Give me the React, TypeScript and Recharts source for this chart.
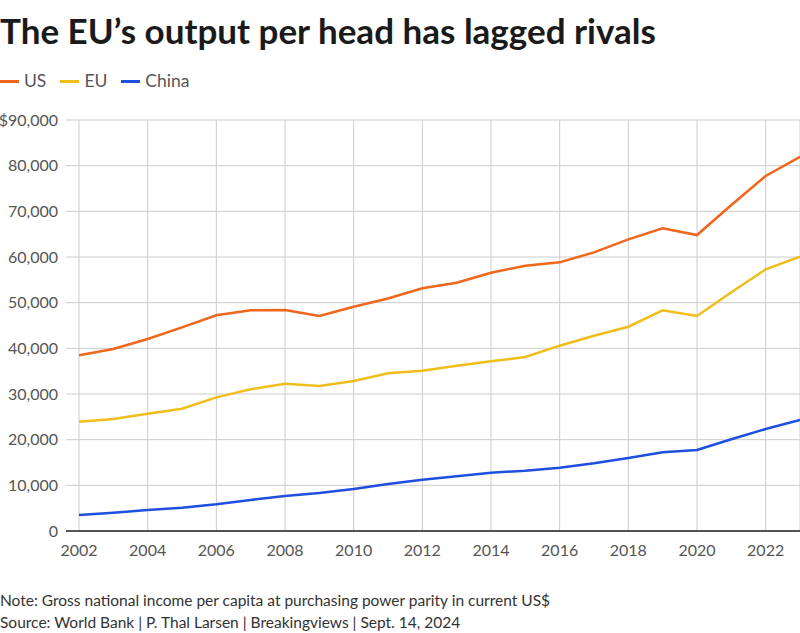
import React from 'react';
import { LineChart, Line, XAxis, YAxis, CartesianGrid } from 'recharts';

const years = [2002, 2003, 2004, 2005, 2006, 2007, 2008, 2009, 2010, 2011, 2012, 2013, 2014, 2015, 2016, 2017, 2018, 2019, 2020, 2021, 2022, 2023];
const usValues = [38470, 39850, 42040, 44600, 47230, 48330, 48400, 47080, 49100, 50900, 53140, 54370, 56560, 58100, 58830, 61020, 63870, 66280, 64810, 71380, 77730, 81960];
const euValues = [23940, 24520, 25690, 26780, 29270, 31020, 32250, 31750, 32840, 34530, 35100, 36200, 37160, 38100, 40580, 42760, 44730, 48330, 47080, 52300, 57300, 60060];
const chinaValues = [3500, 4000, 4600, 5100, 5850, 6790, 7660, 8320, 9200, 10290, 11230, 11970, 12770, 13200, 13860, 14820, 15980, 17230, 17740, 20080, 22330, 24300];
const xTicks = [2002, 2004, 2006, 2008, 2010, 2012, 2014, 2016, 2018, 2020, 2022];
const yTicks = [0, 10000, 20000, 30000, 40000, 50000, 60000, 70000, 80000, 90000];

const seriesInfo = [
  { key: 'us', name: 'US', color: '#f0661a' },
  { key: 'eu', name: 'EU', color: '#efbe1a' },
  { key: 'china', name: 'China', color: '#1f4fe0' },
];

const data = years.map((y, i) => ({ year: y, us: usValues[i], eu: euValues[i], china: chinaValues[i] }));

const FONT = 'Lato, "Noto Sans", sans-serif';

const YTick = (props: any) => {
  const { x, y, payload } = props;
  const v = payload.value as number;
  const label = v === 90000 ? '$90,000' : v === 0 ? '0' : v.toLocaleString('en-US');
  return (
    <g>
      <line x1={x - 13} x2={x} y1={y} y2={y} stroke={v === 0 ? '#222' : '#cccccc'} strokeWidth={v === 0 ? 1.5 : 1} />
      <text x={x - 21} y={y} dy="0.35em" textAnchor="end" fill="#555" fontSize={16} fontFamily={FONT}>{label}</text>
    </g>
  );
};

export default function App() {
  return (
    <div style={{ position: 'absolute', left: 0, top: 0, width: 800, height: 633, background: '#fff', fontFamily: FONT, overflow: 'hidden' }}>
      <div style={{ position: 'absolute', left: 0, top: 10, fontSize: 35, fontWeight: 700, color: '#1a1a1a', whiteSpace: 'nowrap', lineHeight: '40px' }}>
        The EU’s output per head has lagged rivals
      </div>
      <div style={{ position: 'absolute', left: 0, top: 70, display: 'flex', alignItems: 'center', fontSize: 17.5, color: '#555', lineHeight: '22px' }}>
        {seriesInfo.map((s) => (
          <div key={s.key} style={{ display: 'flex', alignItems: 'center', marginRight: 14 }}>
            <div style={{ width: 19, height: 3, background: s.color, marginRight: 5 }} />
            <span>{s.name}</span>
          </div>
        ))}
      </div>
      <div style={{ position: 'absolute', left: 0, top: 100 }}>
        <LineChart width={800} height={470} data={data} margin={{ top: 20, right: 0, bottom: 0, left: 0 }}>
          <CartesianGrid stroke="#cccccc" strokeWidth={1} />
          <XAxis
            dataKey="year"
            type="number"
            domain={[2002, 2023]}
            ticks={xTicks}
            tickLine={false}
            tickSize={0}
            tickMargin={14}
            height={39}
            axisLine={{ stroke: '#222', strokeWidth: 1.5 }}
            tick={{ fill: '#555', fontSize: 16, fontFamily: FONT }}
            allowDataOverflow
            interval={0}
          />
          <YAxis
            type="number"
            domain={[0, 90000]}
            ticks={yTicks}
            width={79}
            axisLine={false}
            tickLine={false}
            tickSize={0}
            tickMargin={0}
            tick={<YTick />}
            interval={0}
          />
          {seriesInfo.map((s) => (
            <Line key={s.key} type="linear" dataKey={s.key} stroke={s.color} strokeWidth={2.5} dot={false} isAnimationActive={false} />
          ))}
        </LineChart>
      </div>
      <div style={{ position: 'absolute', left: 0, top: 589, fontSize: 15.5, color: '#333', lineHeight: '22px', whiteSpace: 'nowrap' }}>
        <div>Note: Gross national income per capita at purchasing power parity in current US$</div>
        <div>Source: World Bank | P. Thal Larsen | Breakingviews | Sept. 14, 2024</div>
      </div>
    </div>
  );
}
